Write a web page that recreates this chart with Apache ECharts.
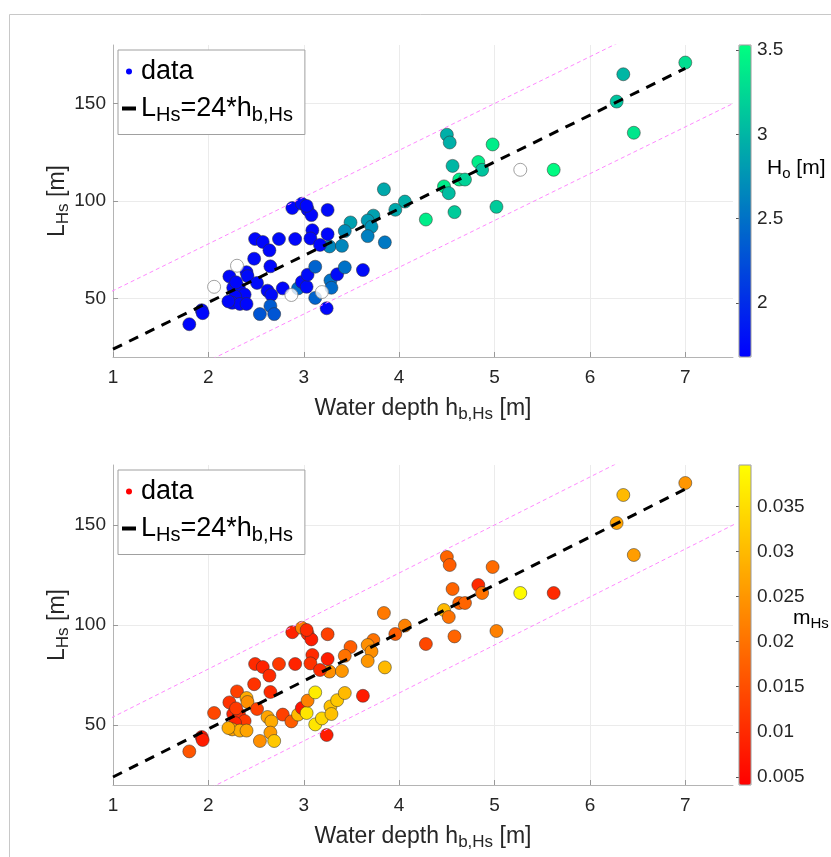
<!DOCTYPE html>
<html>
<head>
<meta charset="utf-8">
<script src="https://cdn.jsdelivr.net/npm/echarts@6/dist/echarts.min.js"></script>
<style>
html, body { margin: 0; padding: 0; background: #fff; }
#chart { width: 831px; height: 857px; }
</style>
</head>
<body>
<div id="chart"></div>
<script>
// breaking water depth h_b,Hs [m]
var depth = [7.00, 6.35, 6.28, 6.46, 4.50, 4.53, 4.98, 4.56, 5.27, 5.62,
  4.83, 4.87, 4.63, 4.69, 4.47, 4.52, 3.84, 4.06, 3.96, 4.28,
  4.58, 5.02, 3.73, 3.67, 3.49, 3.43, 3.71, 3.67, 3.85, 3.27,
  3.40, 3.25, 2.88, 2.98, 3.04, 3.08, 3.09, 3.25, 3.07, 3.17,
  2.91, 2.74, 2.49, 2.57, 2.64, 2.48, 2.65, 2.30, 2.22, 2.40,
  2.41, 2.06, 2.26, 2.32, 2.38, 2.28, 2.25, 2.33, 2.40, 2.51,
  2.62, 2.66, 2.65, 2.54, 2.69, 2.78, 2.87, 2.94, 2.98, 3.03,
  3.04, 3.12, 3.12, 3.19, 3.24, 3.28, 3.29, 3.35, 3.43, 3.62,
  1.93, 1.94, 1.80, 2.21, 2.29, 3.03];
// L_Hs [m]
var lengthHs = [171, 165, 151, 135, 134, 130, 129, 118, 116, 116,
  120, 116, 111, 111, 107.5, 104, 106, 99.7, 95.5, 90.5,
  94.3, 97, 92.5, 90, 89, 84.6, 86.8, 82, 78.8, 76.7,
  77, 95.4, 96.4, 98.6, 95.6, 92.8, 85.0, 83, 80.8, 77.5,
  80.5, 80.5, 80.5, 79, 74.7, 70.4, 66.5, 66.8, 61.3, 63.5,
  61.5, 56, 55.5, 55.5, 52, 51, 47.8, 47.2, 47.2, 58,
  54, 51.8, 46.2, 42, 42, 55.2, 51.8, 55.2, 58.5, 56,
  62.2, 66.3, 50.3, 53.3, 45, 59.3, 55.5, 62.4, 66, 64.6,
  44, 42.5, 36.8, 48.5, 58.3, 97.5];
// H_o [m], null = no offshore data
var hoVals = [3.30, 3.00, 3.10, 3.35, 2.95, 2.95, 3.40, 3.00, null, 3.50,
  3.40, 3.10, 3.40, 3.20, 3.40, 3.05, 2.90, 2.95, 2.90, 3.40,
  3.15, 3.15, 2.85, 2.80, 2.85, 2.70, 2.75, 2.60, 2.55, 2.65,
  2.65, 1.75, 1.72, 1.75, 1.72, 1.72, 1.72, 1.72, 1.72, 1.72,
  1.72, 1.75, 1.72, 1.72, 1.72, 1.75, 1.72, null, 1.72, 1.72,
  1.75, null, 1.72, 1.72, 1.72, 1.72, 1.72, 1.72, 1.72, 1.75,
  1.72, 1.75, 2.35, 2.30, 2.30, 1.72, null, 2.45, 1.72, 1.75,
  1.75, 2.40, 2.40, null, 1.72, 2.50, 2.45, 1.75, 2.50, 1.75,
  1.72, 1.72, 1.72, 1.72, 1.72, 1.72];
// beach slope m_Hs
var mHs = [0.025, 0.030, 0.027, 0.026, 0.018, 0.017, 0.019, 0.018, 0.039, 0.010,
  0.010, 0.020, 0.018, 0.018, 0.030, 0.020, 0.021, 0.022, 0.017, 0.014,
  0.018, 0.022, 0.020, 0.024, 0.017, 0.020, 0.024, 0.025, 0.030, 0.024,
  0.025, 0.013, 0.009, 0.022, 0.010, 0.008, 0.010, 0.008, 0.011, 0.010,
  0.009, 0.012, 0.010, 0.009, 0.010, 0.011, 0.010, 0.013, 0.011, 0.028,
  0.024, 0.014, 0.009, 0.010, 0.012, 0.009, 0.027, 0.028, 0.027, 0.013,
  0.027, 0.028, 0.026, 0.024, 0.032, 0.013, 0.017, 0.030, 0.007, 0.036,
  0.022, 0.037, 0.036, 0.034, 0.008, 0.031, 0.031, 0.032, 0.030, 0.008,
  0.007, 0.008, 0.016, 0.028, 0.012, 0.010];

var xTicks = [1, 2, 3, 4, 5, 6, 7];
var yTicks = [50, 100, 150];
var hoTicks = [2, 2.5, 3, 3.5];
var mTicks = [0.005, 0.01, 0.015, 0.02, 0.025, 0.03, 0.035];

// L_Hs = 24 * h_b,Hs, band +-30 m
var fitSlope = 24;
var bandOffset = 30;
var fitLine = [1, 7].map(function (h) { return [h, fitSlope * h]; });
var bandUp = [0, 8].map(function (h) { return [h, fitSlope * h + bandOffset]; });
var bandLow = [0, 8].map(function (h) { return [h, fitSlope * h - bandOffset]; });

var hoData = [], emptyData = [], mData = [];
for (var i = 0; i < depth.length; i++) {
  if (hoVals[i] === null) {
    emptyData.push([depth[i], lengthHs[i]]);
  } else {
    hoData.push([depth[i], lengthHs[i], hoVals[i]]);
  }
  mData.push([depth[i], lengthHs[i], mHs[i]]);
}

var FONT = 'Liberation Sans';
var TXT = '#262626';
var FIT_NAME = 'fit';

function sub(size, color) {
  return {
    t: { fontSize: size, fontFamily: FONT, color: color || TXT },
    s: { fontSize: Math.round(size * 0.72), fontFamily: FONT, color: color || TXT, padding: [Math.round(size * 0.5), 0, 0, 0] }
  };
}

function mainX(idx) {
  return {
    gridIndex: idx, type: 'value', min: 1, max: 7.5,
    name: '{t|Water depth h}{s|b,Hs}{t| [m]}',
    nameLocation: 'middle', nameGap: 37,
    nameTextStyle: { rich: sub(23) },
    axisLine: { lineStyle: { color: '#b4b4b4' } },
    axisTick: { inside: true, length: 5, customValues: xTicks, lineStyle: { color: '#999' } },
    axisLabel: { customValues: xTicks, fontSize: 19, color: TXT, fontFamily: FONT, margin: 11 },
    splitLine: { show: true, lineStyle: { color: '#ebebeb' } }
  };
}

function mainY(idx) {
  return {
    gridIndex: idx, type: 'value', min: 20, max: 180,
    name: '{t|L}{s|Hs}{t| [m]}',
    nameLocation: 'middle', nameGap: 41, nameRotate: 90, nameMoveOverlap: false,
    nameTextStyle: { rich: sub(23) },
    axisLine: { show: true, lineStyle: { color: '#b4b4b4' } },
    axisTick: { show: true, inside: true, length: 5, customValues: yTicks, lineStyle: { color: '#999' } },
    axisLabel: { customValues: yTicks, fontSize: 19, color: TXT, fontFamily: FONT, margin: 7 },
    splitLine: { show: true, lineStyle: { color: '#ebebeb' } }
  };
}

function barY(idx, lo, hi, ticks) {
  return {
    gridIndex: idx, type: 'value', min: lo, max: hi, position: 'right',
    axisLine: { show: false },
    axisTick: { show: true, inside: true, length: 3, customValues: ticks, lineStyle: { color: '#555' } },
    axisLabel: { customValues: ticks, fontSize: 19, color: TXT, fontFamily: FONT, margin: 6 },
    splitLine: { show: false }
  };
}

function lineSeries(idx, name, data, color, width, dash) {
  return {
    name: name, type: 'line', xAxisIndex: idx, yAxisIndex: idx,
    data: data, symbol: 'none', silent: true, z: 3,
    lineStyle: { color: color, width: width, type: dash }
  };
}

function legendFor(top, dotColor) {
  return {
    orient: 'vertical', left: 118, top: top,
    backgroundColor: '#fff', borderColor: '#a0a0a0', borderWidth: 1,
    padding: [8, 12, 9, 4], itemGap: 10, itemWidth: 14, itemHeight: 6,
    selectedMode: false,
    data: [
      { name: 'data', icon: 'circle', itemStyle: { color: dotColor, borderWidth: 0 } },
      { name: FIT_NAME, icon: 'path://M0,0h14v4h-14z', itemStyle: { color: '#000' } }
    ],
    formatter: function (n) {
      return n === 'data' ? '{t|data}' : '{t|L}{s|Hs}{t|=24*h}{s|b,Hs}';
    },
    textStyle: { fontSize: 27, color: '#000', fontFamily: FONT, rich: {
      t: { fontSize: 27, fontFamily: FONT, color: '#000' },
      s: { fontSize: 20, fontFamily: FONT, color: '#000', padding: [14, 0, 0, 0] }
    } }
  };
}

var dotStyle = { borderColor: 'rgba(50,50,50,0.75)', borderWidth: 0.7, opacity: 1 };

var chart = echarts.init(document.getElementById('chart'));
chart.setOption({
  backgroundColor: '#fff',
  animation: false,
  grid: [
    { left: 113, top: 45, width: 620, height: 312 },
    { left: 113, top: 465, width: 620, height: 320 },
    { left: 739, top: 45, width: 12, height: 312, show: true, z: 10, borderColor: '#9a9a9a', borderWidth: 1, backgroundColor: 'transparent' },
    { left: 739, top: 465, width: 12, height: 320, show: true, z: 10, borderColor: '#9a9a9a', borderWidth: 1, backgroundColor: 'transparent' }
  ],
  xAxis: [
    mainX(0), mainX(1),
    { gridIndex: 2, type: 'value', show: false },
    { gridIndex: 3, type: 'value', show: false }
  ],
  yAxis: [
    mainY(0), mainY(1),
    barY(2, 1.68, 3.53, hoTicks),
    barY(3, 0.0041, 0.0396, mTicks)
  ],
  visualMap: [
    { type: 'continuous', seriesIndex: 0, dimension: 2, min: 1.68, max: 3.53,
      left: 739, top: 45, itemWidth: 12, itemHeight: 312, padding: 0,
      calculable: false, hoverLink: false, inRange: { color: ['#0000ff', '#00ff80'] } },
    { type: 'continuous', seriesIndex: 5, dimension: 2, min: 0.0041, max: 0.0396,
      left: 739, top: 465, itemWidth: 12, itemHeight: 320, padding: 0,
      calculable: false, hoverLink: false, inRange: { color: ['#ff0000', '#ffff00'] } }
  ],
  legend: [
    legendFor(50, '#0000ff'),
    legendFor(470, '#ff0000')
  ],
  graphic: [
    { type: 'rect', shape: { x: 9.5, y: 14.5, width: 900, height: 900 },
      style: { fill: 'none', stroke: '#c8c8c8', lineWidth: 1 }, silent: true, z: -10 },
    { type: 'text', left: 767, top: 158,
      style: { text: '{t|H}{s|o}{t| [m]}', rich: sub(21) } },
    { type: 'text', left: 793, top: 608,
      style: { text: '{t|m}{s|Hs}', rich: sub(21) } }
  ],
  series: [
    { name: 'data', type: 'scatter', xAxisIndex: 0, yAxisIndex: 0, symbolSize: 13,
      data: hoData, itemStyle: dotStyle },
    { name: 'no Ho', type: 'scatter', xAxisIndex: 0, yAxisIndex: 0, symbolSize: 13,
      data: emptyData, itemStyle: { color: '#fff', borderColor: '#8a8a8a', borderWidth: 1 } },
    lineSeries(0, FIT_NAME, fitLine, '#000', 3, [10, 8]),
    lineSeries(0, 'band up', bandUp, '#ff88ff', 1, [4, 3]),
    lineSeries(0, 'band low', bandLow, '#ff88ff', 1, [4, 3]),
    { name: 'data', type: 'scatter', xAxisIndex: 1, yAxisIndex: 1, symbolSize: 13,
      data: mData, itemStyle: dotStyle },
    lineSeries(1, FIT_NAME, fitLine, '#000', 3, [10, 8]),
    lineSeries(1, 'band up 2', bandUp, '#ff88ff', 1, [4, 3]),
    lineSeries(1, 'band low 2', bandLow, '#ff88ff', 1, [4, 3])
  ]
});
</script>
</body>
</html>
